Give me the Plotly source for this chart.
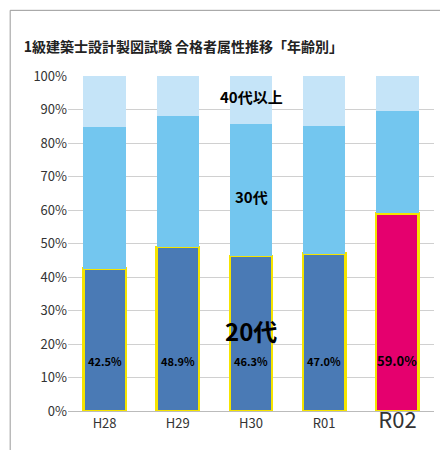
import plotly.graph_objects as go

years = ["H28", "H29", "H30", "R01", "R02"]
age20 = [42.5, 48.9, 46.3, 47.0, 59.0]
age30 = [42.4, 39.1, 39.5, 38.2, 30.5]
age40 = [15.1, 12.0, 14.2, 14.8, 10.5]
labels20 = ["42.5%", "48.9%", "46.3%", "47.0%", "59.0%"]

c20 = ["#4a7ab5"] * 4 + ["#e5006e"]

fig = go.Figure()
fig.add_trace(go.Bar(x=years, y=age20, marker=dict(color=c20, line=dict(color="#f5e400", width=2.5)),
                     hoverinfo="skip"))
fig.add_trace(go.Bar(x=years, y=age30, marker=dict(color="#73c6ef", line=dict(width=0))))
fig.add_trace(go.Bar(x=years, y=age40, marker=dict(color="#c5e4f8", line=dict(width=0))))

for i, (yr, lab) in enumerate(zip(years, labels20)):
    big = i == len(years) - 1
    fig.add_annotation(x=yr, y=15, text="<b>%s</b>" % lab, showarrow=False,
                       font=dict(size=13 if big else 11, color="black"))

fig.add_annotation(x=2, y=94, text="<b>40代以上</b>", showarrow=False, font=dict(size=15, color="black"))
fig.add_annotation(x=2, y=64, text="<b>30代</b>", showarrow=False, font=dict(size=15, color="black"))
fig.add_annotation(x=2, y=24, text="<b>20代</b>", showarrow=False, font=dict(size=24, color="black"))

ticktext = years[:-1] + ["<span style='font-size:22px'>R02</span>"]

fig.update_layout(
    width=448, height=450, barmode="stack", bargap=0.42, showlegend=False,
    plot_bgcolor="white", paper_bgcolor="white",
    font=dict(family="Noto Sans CJK JP", color="#333"),
    title=dict(text="<b>1級建築士設計製図試験 合格者属性推移「年齢別」</b>", x=0.035, y=0.925,
               font=dict(size=14, color="#222")),
    margin=dict(l=60, r=22, t=68, b=47),
    xaxis=dict(tickvals=years, ticktext=ticktext, tickfont=dict(size=13),
               showline=True, linecolor="#bbb"),
    yaxis=dict(range=[0, 100], dtick=10, ticksuffix="%", gridcolor="#d0d0d0",
               tickfont=dict(size=13), zeroline=False),
    shapes=[dict(type="rect", xref="paper", yref="paper", x0=-0.158, x1=1.055, y0=-0.134, y1=1.196,
                 line=dict(color="#999", width=1))],
)

fig.write_html("out.html")
